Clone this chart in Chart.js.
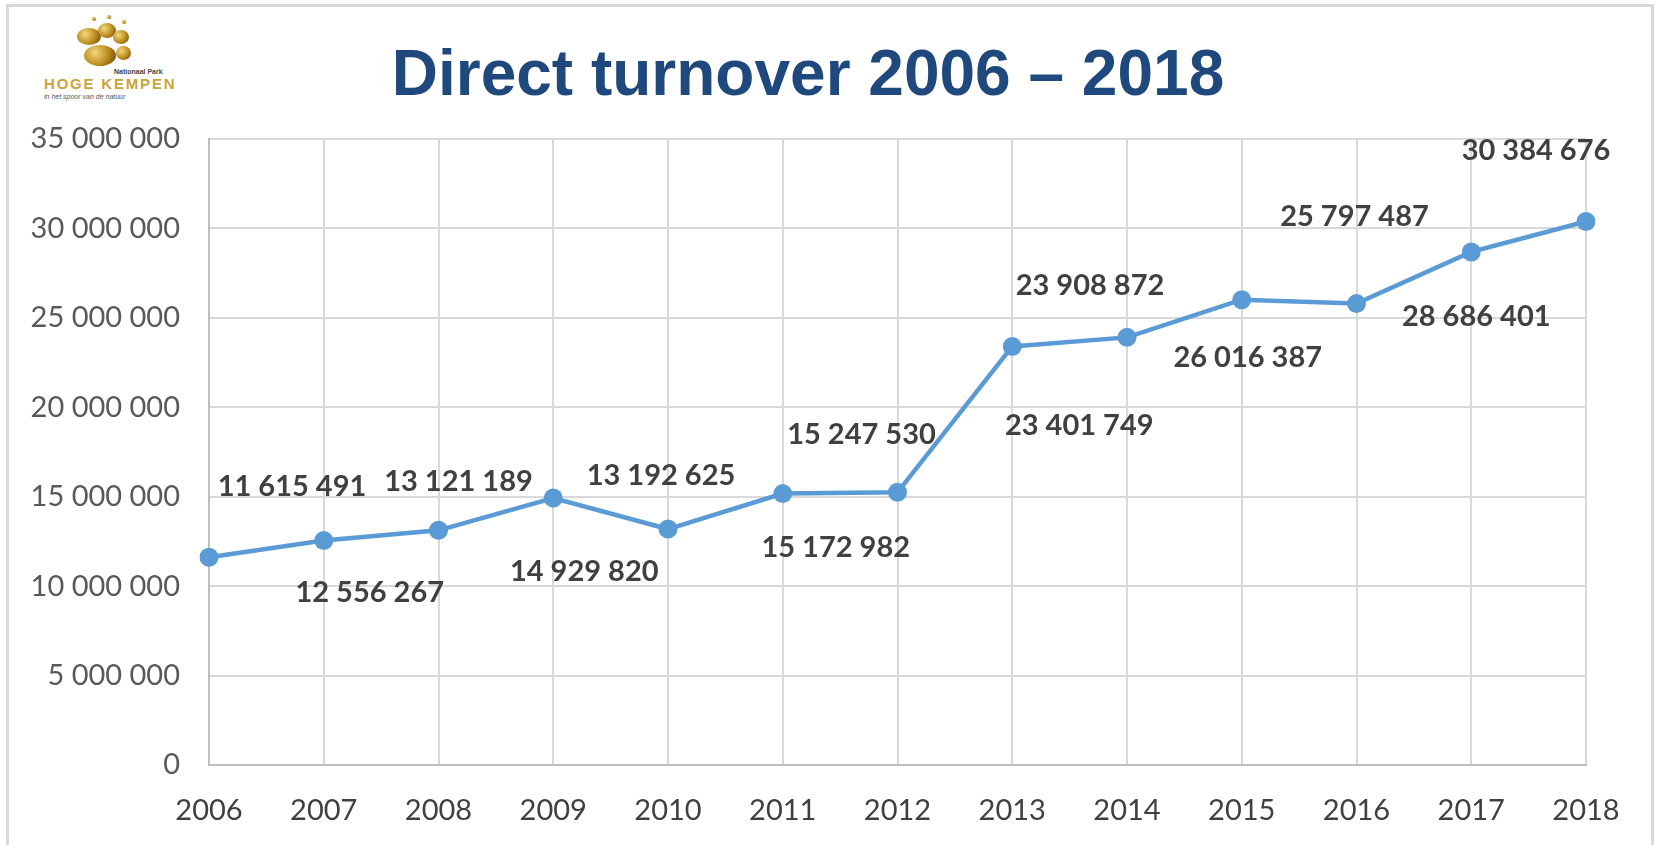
<!DOCTYPE html>
<html>
<head>
<meta charset="utf-8">
<script src="https://cdn.jsdelivr.net/npm/chart.js@4.4.1/dist/chart.umd.min.js"></script>
<style>
    html, body { margin: 0; padding: 0; background: #fff; }
    #wrap { position: relative; width: 1659px; height: 845px; overflow: hidden; }
    #frame { position: absolute; left: 6px; top: 4px; width: 1648px; height: 850px; border: 3px solid #d9d9d9; box-sizing: border-box; }
    #title { position: absolute; left: 0; width: 1616px; top: 36px; text-align: center;
             font: bold 64px "Liberation Sans", Arial, sans-serif; color: #1f497d; white-space: nowrap; }
    #logo { position: absolute; left: 40px; top: 12px; width: 150px; height: 85px; }
    .toe { position: absolute; border-radius: 50%; background: radial-gradient(circle at 35% 35%, #f3d77a, #b8891c 55%, #5e4208); }
    #logo .np { position: absolute; left: 74px; top: 56px; font: bold 7px "Liberation Sans", sans-serif; color: #444; }
    #logo .name { position: absolute; left: 4px; top: 63px; font: bold 15px "Liberation Sans", sans-serif; color: #c9a43c; letter-spacing: 1.8px; }
    #logo .tag { position: absolute; left: 4px; top: 81px; font: italic 7px "Liberation Sans", sans-serif; color: #555; }
    canvas { position: absolute; left: 0; top: 0; }
</style>
</head>
<body>
<div id="wrap">
    <div id="frame"></div>
    <div id="logo">
        <div class="toe" style="left:37px;top:16px;width:24px;height:17px;"></div>
        <div class="toe" style="left:58px;top:11px;width:18px;height:15px;"></div>
        <div class="toe" style="left:73px;top:18px;width:16px;height:14px;"></div>
        <div class="toe" style="left:44px;top:33px;width:32px;height:21px;"></div>
        <div class="toe" style="left:76px;top:34px;width:15px;height:14px;"></div>
        <div class="toe" style="left:52px;top:5px;width:4px;height:4px;"></div>
        <div class="toe" style="left:67px;top:3px;width:4px;height:4px;"></div>
        <div class="toe" style="left:82px;top:8px;width:4px;height:4px;"></div>
        <div class="np">Nationaal Park</div>
        <div class="name">HOGE KEMPEN</div>
        <div class="tag">in het spoor van de natuur</div>
    </div>
    <div id="title">Direct turnover 2006 – 2018</div>
    <canvas id="turnoverChart" width="1659" height="845"></canvas>
</div>
<script>
// Gegevens
const years = ['2006', '2007', '2008', '2009', '2010', '2011', '2012', '2013', '2014', '2015', '2016', '2017', '2018'];
const turnover = [11615491, 12556267, 13121189, 14929820, 13192625, 15172982, 15247530, 23401749, 23908872, 26016387, 25797487, 28686401, 30384676];
const yTicks = [0, 5000000, 10000000, 15000000, 20000000, 25000000, 30000000, 35000000];

// verschuiving van de labels t.o.v. het punt (zoals in het origineel)
const labelShift = [[83, -71], [46, 52], [20, -49], [31, 74], [-7, -53], [53, 54], [-36, -58],
                    [67, 79], [-37, -52], [6, 58], [-2, -87], [5, 65], [-50, -71]];

function fmt(v) {
    return String(v).replace(/\B(?=(\d{3})+(?!\d))/g, ' ');
}

const valueLabels = {
    id: 'valueLabels',
    afterDatasetsDraw(chart) {
        const ctx = chart.ctx;
        const meta = chart.getDatasetMeta(0);
        ctx.save();
        ctx.font = 'bold 29px Lato';
        ctx.fillStyle = '#404040';
        ctx.textAlign = 'center';
        ctx.textBaseline = 'middle';
        meta.data.forEach((pt, i) => {
            ctx.fillText(fmt(turnover[i]), pt.x + labelShift[i][0], pt.y + labelShift[i][1]);
        });
        ctx.restore();
    }
};

const ctx = document.getElementById('turnoverChart').getContext('2d');
new Chart(ctx, {
    type: 'line',
    data: {
        labels: years,
        datasets: [{
            label: 'Direct turnover',
            data: turnover,
            borderColor: '#5b9bd5',
            backgroundColor: '#5b9bd5',
            borderWidth: 4.5,
            pointRadius: 9.5,
            pointHoverRadius: 9.5,
            pointBorderWidth: 0,
            tension: 0,
            fill: false
        }]
    },
    options: {
        responsive: false,
        animation: false,
        layout: { padding: { left: 0, right: 73, top: 139, bottom: 0 } },
        plugins: { legend: { display: false }, tooltip: { enabled: false } },
        scales: {
            x: {
                offset: false,
                grid: { color: '#d9d9d9', lineWidth: 2, drawTicks: false },
                border: { color: '#bfbfbf', width: 2 },
                ticks: { color: '#404040', font: { family: 'Lato', size: 29 }, padding: 28, maxRotation: 0 },
                afterFit(scale) { scale.height = 80; }
            },
            y: {
                min: 0,
                max: 35000000,
                afterBuildTicks(scale) { scale.ticks = yTicks.map(v => ({ value: v })); },
                grid: { color: '#d9d9d9', lineWidth: 2, drawTicks: false },
                border: { color: '#bfbfbf', width: 2 },
                ticks: { color: '#595959', font: { family: 'Lato', size: 29 }, padding: 29, callback: v => fmt(v) },
                afterFit(scale) { scale.width = 209; }
            }
        }
    },
    plugins: [valueLabels]
});
</script>
</body>
</html>
